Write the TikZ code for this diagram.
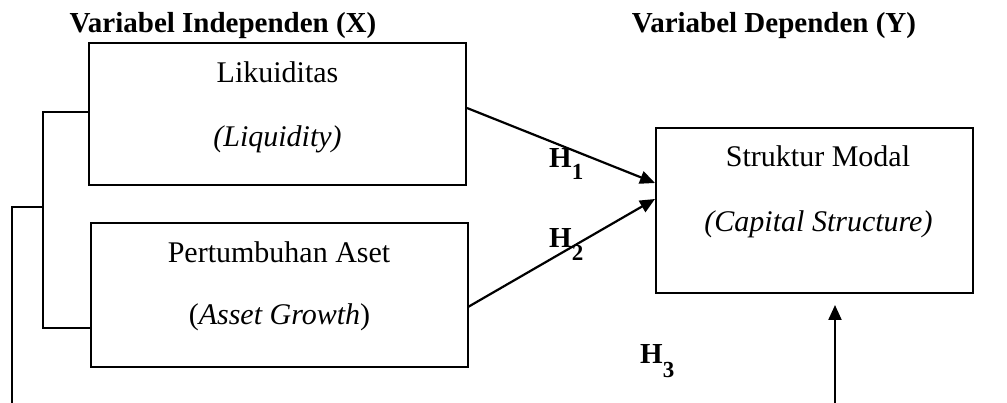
\documentclass[tikz,border=0pt]{standalone}
\usepackage{fontspec}
\setmainfont{Liberation Serif}
\usetikzlibrary{arrows.meta}
\begin{document}
\begin{tikzpicture}[x=1pt,y=-1pt,
  box/.style={draw, line width=2pt, inner sep=0pt},
  txt/.style={inner sep=0pt, anchor=base, font=\fontsize{30}{36}\selectfont},
  ttl/.style={inner sep=0pt, anchor=base, font=\fontsize{29}{34}\selectfont\bfseries},
  hyp/.style={inner sep=0pt, anchor=base west, font=\fontsize{29}{34}\selectfont\bfseries},
  conn/.style={line width=2pt},
  arr/.style={line width=2.2pt, -{Triangle[length=15pt,width=13pt]}}]
\useasboundingbox (0,0) rectangle (1007,403);
% titles
\node[ttl] (tx) at (223,33) {Variabel Independen (X)};
\node[ttl] (ty) at (774,33) {Variabel Dependen (Y)};
% boxes
\node[box, minimum width=377pt, minimum height=142pt] (b1) at (277.5,114) {};
\node[box, minimum width=377pt, minimum height=144pt] (b2) at (279.5,295) {};
\node[box, minimum width=317pt, minimum height=165pt] (b3) at (814.5,210.5) {};
% texts
\node[txt] (t1a) at (277.5,83) {Likuiditas};
\node[txt] (t1b) at (277.5,147) {\itshape (Liquidity)};
\node[txt] (t2a) at (279,263) {Pertumbuhan Aset};
\node[txt] (t2b) at (279.5,325) {(\textit{Asset Growth})};
\node[txt] (t3a) at (818,167) {Struktur Modal};
\node[txt] (t3b) at (818.5,232) {\itshape (Capital Structure)};
% hypothesis labels
\node[hyp] (h1) at (549,168) {H\raisebox{-12pt}{\fontsize{23}{26}\selectfont 1}};
\node[hyp] (h2) at (549,248) {H\raisebox{-13pt}{\fontsize{23}{26}\selectfont 2}};
\node[hyp] (h3) at (640,363) {H\raisebox{-14pt}{\fontsize{23}{26}\selectfont 3}};
% coordinates
\coordinate (a1s) at (467,108);
\coordinate (a1e) at (655,183);
\coordinate (a2s) at (468,307);
\coordinate (a2e) at (655,199);
\coordinate (a3s) at (835,403);
\coordinate (a3e) at (835,305);
\coordinate (k1) at (43,112);
\coordinate (k2) at (43,328);
\coordinate (k3) at (43,207);
\coordinate (l1) at (12,403);
% arrows
\draw[arr] (a1s) -- (a1e);
\draw[arr] (a2s) -- (a2e);
\draw[arr] (a3s) -- (a3e);
% bracket
\draw[conn] (b1.west |- k1) -- (k1) -- (k2) -- (b2.west |- k2);
\draw[line width=2.8pt] (l1) -- (l1 |- k3) -- (k3);
\end{tikzpicture}
\end{document}
